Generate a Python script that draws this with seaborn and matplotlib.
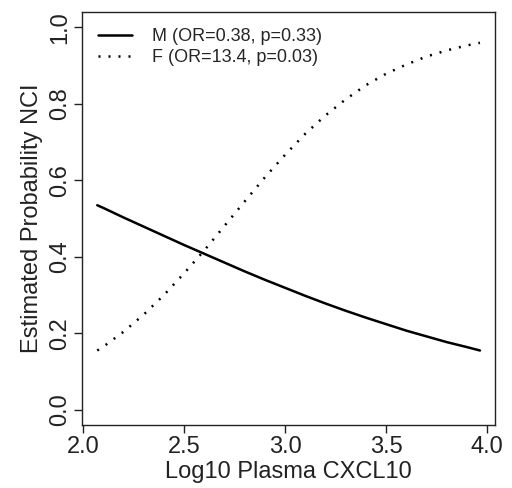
import numpy as np
import pandas as pd
import matplotlib
matplotlib.use("Agg")
import matplotlib.pyplot as plt
import seaborn as sns

# estimated probability curves
x_vals = [2.07, 2.1, 2.2, 2.3, 2.4, 2.5, 2.6, 2.7, 2.8, 2.9, 3.0,
          3.1, 3.2, 3.3, 3.4, 3.5, 3.6, 3.7, 3.8, 3.9, 3.965]
m_prob = [0.535, 0.528, 0.503, 0.479, 0.455, 0.431, 0.408, 0.385, 0.362, 0.340, 0.319,
          0.298, 0.278, 0.259, 0.241, 0.224, 0.207, 0.192, 0.177, 0.164, 0.155]
f_prob = [0.155, 0.165, 0.204, 0.249, 0.300, 0.357, 0.417, 0.481, 0.545, 0.608, 0.667,
          0.722, 0.770, 0.812, 0.849, 0.879, 0.903, 0.924, 0.940, 0.953, 0.960]
labels = ["M (OR=0.38, p=0.33)", "F (OR=13.4, p=0.03)"]
x_ticks = [2.0, 2.5, 3.0, 3.5, 4.0]
y_ticks = [0.0, 0.2, 0.4, 0.6, 0.8, 1.0]

df = pd.DataFrame({
    "x": x_vals * 2,
    "p": m_prob + f_prob,
    "grp": [labels[0]] * len(x_vals) + [labels[1]] * len(x_vals),
})

sns.set_style("ticks")
plt.rcParams["font.family"] = ["Liberation Sans", "DejaVu Sans"]

fig = plt.figure(figsize=(5.12, 4.88), dpi=100)
ax = fig.add_axes([0.160, 0.129, 0.807, 0.846])

sns.lineplot(data=df, x="x", y="p", hue="grp", style="grp",
             palette=["black", "black"],
             dashes={labels[0]: "", labels[1]: (0.8, 3.2)},
             linewidth=1.8, ax=ax)

ax.set_xlim(1.994, 4.04)
ax.set_ylim(-0.04, 1.04)
ax.set_xticks(x_ticks)
ax.set_yticks(y_ticks)
ax.set_xticklabels([f"{t:.1f}" for t in x_ticks], fontsize=17)
ax.set_yticklabels([f"{t:.1f}" for t in y_ticks], fontsize=17, rotation=90, va="center")
ax.tick_params(direction="out", length=6, width=1, colors="#222222", pad=2)
for s in ax.spines.values():
    s.set_visible(True)
    s.set_color("#222222")
    s.set_linewidth(1)
ax.set_xlabel("Log10 Plasma CXCL10", fontsize=17, color="#222222", labelpad=2)
ax.set_ylabel("Estimated Probability NCI", fontsize=17, color="#222222", labelpad=4)

leg = ax.legend(loc="upper left", frameon=False, fontsize=13,
                handlelength=1.9, handletextpad=1.1, labelspacing=0.2,
                borderaxespad=0.5)
for line in leg.get_lines():
    line.set_linewidth(1.8)

fig.savefig("out.png", dpi=100)
